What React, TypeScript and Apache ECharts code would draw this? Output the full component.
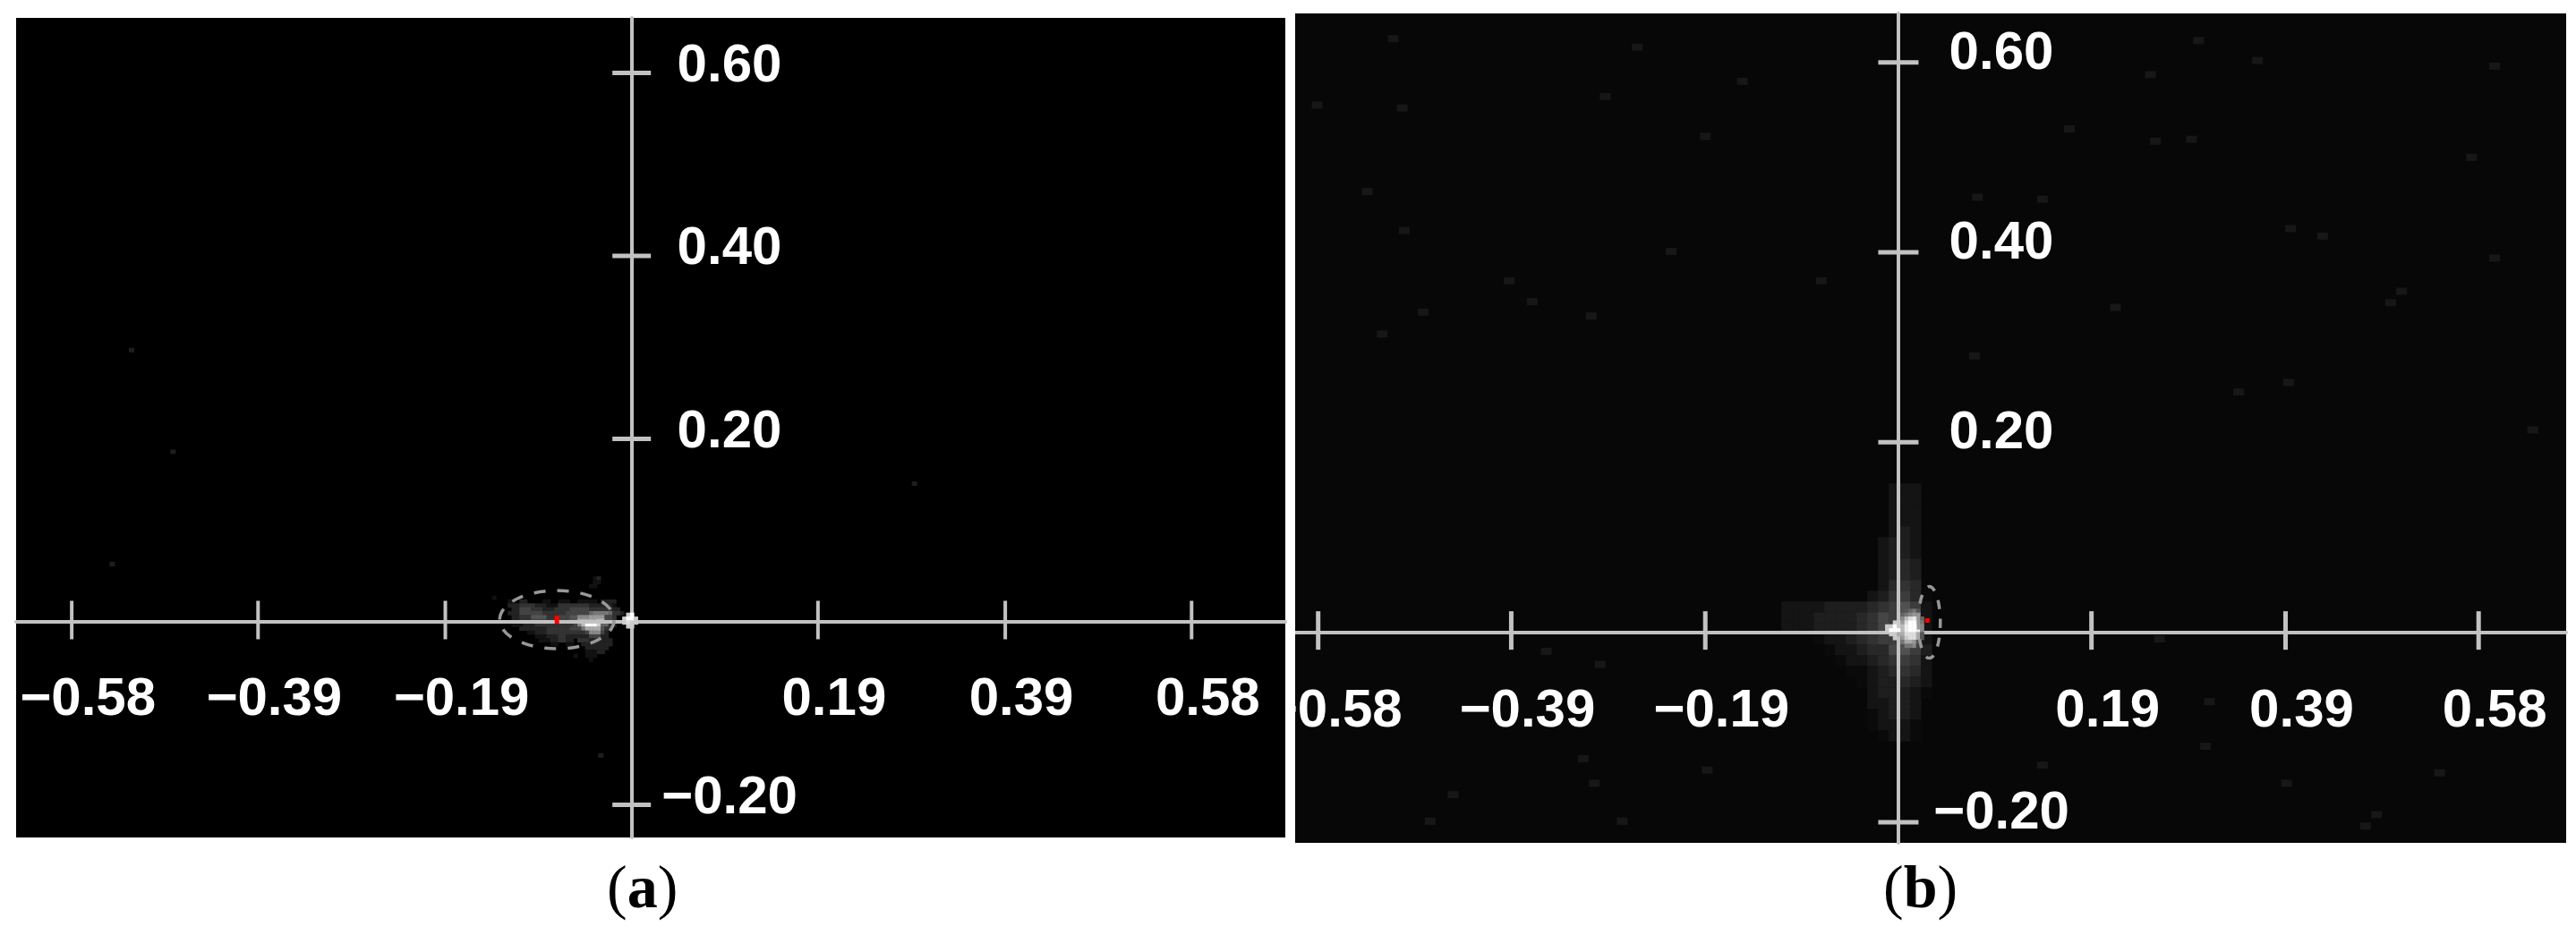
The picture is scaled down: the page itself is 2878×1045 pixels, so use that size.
import React, { useEffect, useRef } from "react";
import * as echarts from "echarts";

const xTicks = [-0.58, -0.387, -0.193, 0.193, 0.387, 0.58];
const yTicks = [-0.2, 0.2, 0.4, 0.6];

// intensity maps (one hex digit per cell, 0 = nothing drawn)
const blobA = [
  "",
  "00000000000000000000000000120",
  "00000000000000000000000000110",
  "00000000000000000000000001100",
  "",
  "",
  "1",
  "00001102200001100111001111102222",
  "00002223333222111333333332222221",
  "000002244433322233334444433333322",
  "0000222444444333333444444677776332",
  "00000223335555333444558889999443",
  "0000022333444433344455aaaaabb443",
  "00000111222333333333348bfffc6632",
  "000000022222223333334447aaaa533",
  "000000000112223333333333488842",
  "000000000001112223322222244422",
  "0000000000001112233220333222222",
  "0000000000000001100110022222222",
  "000000000000000000000000222222",
  "00000000000000000000000011122",
  "000000000000000000000100111",
  "00000000000000000000000001",
];
const glowA = ["0cf0", "cffc", "cdcc", "0cc0"];

const haloB = [
  "00000000002220000",
  "00000000002220000",
  "00000000002220000",
  "00000000002220000",
  "00000000002320000",
  "00000000023320000",
  "00000000023320000",
  "00000000023430000",
  "00000000023430000",
  "00000000024540000",
  "00000000235641000",
  "22223333456862000",
  "22233334576a72000",
  "22233334576a72000",
  "00012234566a72000",
  "00001223447863000",
  "00000122345652000",
  "00000011234542000",
  "00000001233432000",
  "00000000233321000",
  "00000000223320000",
  "00000000123320000",
  "00000000122210000",
  "00000000012210000",
];
const coreB = [
  "00000567500",
  "00000789800",
  "00008bdeb60",
  "00cc9dffd70",
  "ccfcbeffe80",
  "cfffbeffe80",
  "0ccaaddda50",
  "00c09cdda50",
  "00007aa9500",
  "00000778400",
];

const faintA = [
  [-0.518, 0.297], [-0.475, 0.186], [-0.032, -0.146], [-0.538, 0.063], [0.293, 0.151],
];
const faintB = [
  [0.573, 0.5], [0.392, 0.425], [0.424, 0.417], [0.596, 0.596], [0.359, 0.602], [0.252, 0.587],
  [0.171, 0.53], [0.596, 0.394], [0.492, 0.347], [0.503, 0.359], [0.39, 0.263], [0.34, 0.253],
  [0.217, 0.342], [0.257, 0.517], [0.293, 0.519], [0.634, 0.213], [0.079, 0.458], [0.144, 0.456],
  [0.076, 0.291], [0.3, 0.623], [-0.505, 0.625], [-0.496, 0.552], [-0.581, 0.555], [-0.531, 0.464],
  [-0.193, 0.522], [-0.261, 0.616], [-0.293, 0.564], [-0.156, 0.58], [-0.389, 0.37], [-0.077, 0.37],
  [-0.366, 0.348], [-0.475, 0.337], [-0.307, 0.333], [-0.516, 0.314], [-0.494, 0.423], [-0.227, 0.401],
  [-0.304, -0.159], [-0.445, -0.171], [-0.276, -0.199], [-0.298, -0.034], [-0.352, -0.02], [-0.315, -0.133],
  [-0.191, -0.145], [-0.468, -0.199], [0.307, -0.12], [0.144, -0.14], [0.311, -0.073], [0.467, -0.204],
  [0.388, -0.159], [0.541, -0.148], [0.478, -0.192], [0.261, -0.007],
];

// ellipse: centre x, centre y, radius x, radius y
const ellipseA = [-0.0774, 0.0024, 0.0593, 0.0318];
const ellipseB = [0.0309, 0.0104, 0.011, 0.0377];

const fmt = (v: number) => v.toFixed(2).replace("-", "\u2212");

function cells(rows: string[], x0: number, y0: number, dx: number, dy: number, w: number, h: number, unit: number, z: number) {
  const data: any[] = [];
  rows.forEach((row, r) => {
    row.split("").forEach((ch, c) => {
      const v = parseInt(ch, 16);
      if (!v) return;
      const g = Math.min(255, v * unit);
      data.push({
        value: [x0 + dx * (c + 0.5), y0 - dy * (r + 0.5)],
        symbolSize: [w, h],
        itemStyle: { color: `rgb(${g},${g},${g})` },
      });
    });
  });
  return { type: "scatter", symbol: "rect", data, z, silent: true, itemStyle: { opacity: 1 } };
}

function marks(points: number[][], size: number[], color: string, z: number, offset: number[] = [0, 0]) {
  return {
    type: "scatter",
    symbol: "rect",
    symbolSize: size,
    symbolOffset: offset,
    data: points,
    z,
    silent: true,
    itemStyle: { color, opacity: 1 },
  };
}

function ellipseSeries(e: number[], lineDash: number[]) {
  return {
    type: "custom",
    data: [e],
    z: 8,
    silent: true,
    clip: false,
    encode: { x: 0, y: 1 },
    renderItem: (_p: any, api: any) => {
      const c = api.coord([api.value(0), api.value(1)]);
      const s = api.size([api.value(2), api.value(3)]);
      return {
        type: "ellipse",
        shape: { cx: c[0], cy: c[1], rx: s[0], ry: s[1] },
        style: { fill: "none", stroke: "#989898", lineWidth: 3.5, lineDash },
      };
    },
  };
}

const labelFont = {
  color: "#ffffff",
  fontFamily: "Liberation Sans",
  fontWeight: "bold" as const,
  fontSize: 60,
};

function panel(cfg: any) {
  return {
    animation: false,
    backgroundColor: "#ffffff",
    grid: {
      left: cfg.left, top: cfg.top, width: cfg.width, height: cfg.height,
      show: true, backgroundColor: cfg.bg, borderWidth: 0, containLabel: false,
      outerBoundsMode: "none",
    },
    xAxis: {
      type: "value", min: cfg.xMin, max: cfg.xMax, z: 5,
      splitLine: { show: false }, axisTick: { show: false },
      axisLine: { onZero: true, lineStyle: { color: "#c2c2c2", width: 4 } },
      axisLabel: {
        ...labelFont, customValues: xTicks, inside: true, margin: cfg.xMargin,
        formatter: (v: number) => `{t|${fmt(v)}}`,
        rich: { t: { ...labelFont, padding: [0, 0, 0, 36] } },
        hideOverlap: false, showMinLabel: true, showMaxLabel: true,
      },
    },
    yAxis: {
      type: "value", min: cfg.yMin, max: cfg.yMax, z: 5,
      splitLine: { show: false }, axisTick: { show: false },
      axisLine: { onZero: true, lineStyle: { color: "#c2c2c2", width: 4 } },
      axisLabel: {
        ...labelFont, customValues: yTicks, inside: true, margin: cfg.yMargin, align: "center",
        formatter: (v: number) => `{t|${fmt(v)}}`,
        rich: { t: { ...labelFont, padding: [0, 0, cfg.yLift, 0] } },
        hideOverlap: false, showMinLabel: true, showMaxLabel: true,
      },
    },
    graphic: [
      {
        type: "text", left: cfg.capX, top: 957, z: 20,
        style: {
          text: `({b|${cfg.cap}})`,
          fill: "#000", fontFamily: "Liberation Serif", fontSize: 68,
          rich: { b: { fontFamily: "Liberation Serif", fontSize: 68, fontWeight: "bold", fill: "#000", color: "#000" } },
        },
      },
    ],
    series: cfg.series,
  };
}

const xTickPoints = xTicks.map((v) => [v, 0]);
const yTickPoints = yTicks.map((v) => [0, v]);

export default function App() {
  const a = useRef<HTMLDivElement>(null);
  const b = useRef<HTMLDivElement>(null);
  useEffect(() => {
    const ca = echarts.init(a.current!, undefined, { renderer: "svg" });
    const cb = echarts.init(b.current!, undefined, { renderer: "svg" });
    ca.setOption(panel({
      left: 18, top: 20, width: 1418, height: 916, bg: "#000000",
      xMin: -0.6376, xMax: 0.6771, yMin: -0.2357, yMax: 0.6601,
      xMargin: 128, yMargin: 797, yLift: 22, cap: "a", capX: 678,
      series: [
        marks(faintA, [6, 5], "#1e1e1e", 1),
        cells(blobA, -0.1442, 0.0538, 0.00401, 0.00423, 4.8, 4.8, 17, 2),
        cells(glowA, -0.00955, 0.0098, 0.00401, 0.00423, 4.8, 4.8, 17, 7),
        marks(xTickPoints, [4, 43], "#c2c2c2", 6, [0, -2]),
        marks(yTickPoints, [43, 5], "#c2c2c2", 6),
        ellipseSeries(ellipseA, [13, 13]),
        marks([[ellipseA[0], ellipseA[1]]], [5, 9], "#ff0000", 9),
      ],
    }));
    cb.setOption(panel({
      left: 0, top: 15, width: 1420, height: 927, bg: "#070707",
      xMin: -0.603, xMax: 0.6675, yMin: -0.2217, yMax: 0.6515,
      xMargin: 121, yMargin: 789, yLift: 27, cap: "b", capX: 657,
      series: [
        marks(faintB, [12, 8], "#171717", 1),
        cells(haloB, -0.1168, 0.1564, 0.01073, 0.0113, 12.5, 12.5, 10, 2),
        cells(coreB, -0.0131, 0.0245, 0.00387, 0.00408, 4.8, 4.8, 17, 7),
        marks(xTickPoints, [5, 43], "#c2c2c2", 6, [0, -2]),
        marks(yTickPoints, [45, 5], "#c2c2c2", 6),
        ellipseSeries(ellipseB, [10, 11]),
        marks([[ellipseB[0] - 0.002, ellipseB[1] + 0.002]], [5, 5], "#ff0000", 9),
      ],
    }));
    return () => {
      ca.dispose();
      cb.dispose();
    };
  }, []);
  return (
    <div style={{ position: "absolute", left: 0, top: 0, width: 2878, height: 1045, background: "#fff", overflow: "hidden" }}>
      <div ref={a} style={{ position: "absolute", left: 0, top: 0, width: 1447, height: 1045 }} />
      <div ref={b} style={{ position: "absolute", left: 1447, top: 0, width: 1431, height: 1045 }} />
    </div>
  );
}
